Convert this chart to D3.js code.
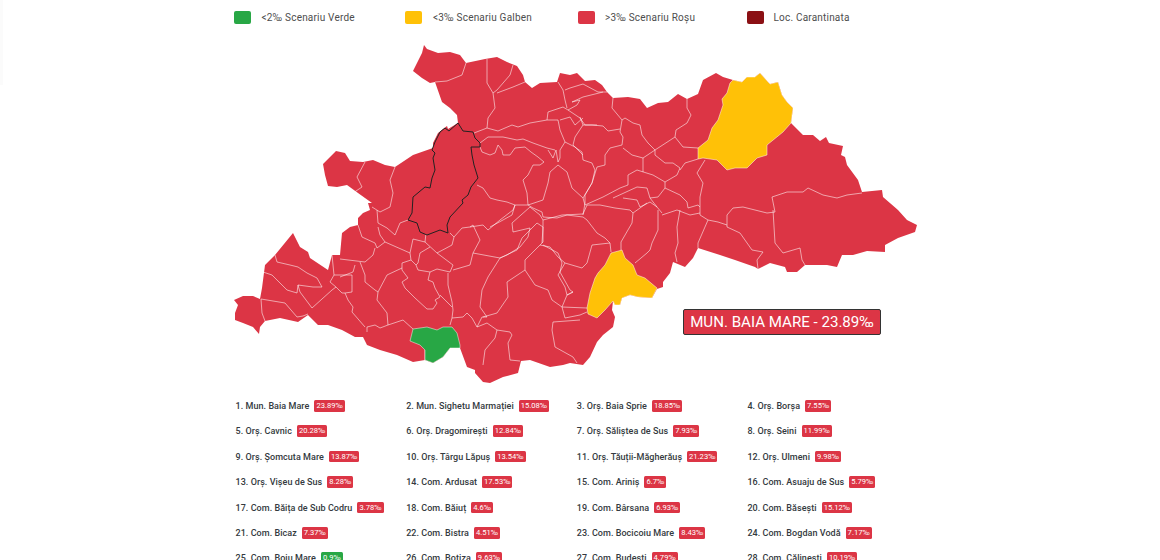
<!DOCTYPE html>
<html>
<head>
<meta charset="utf-8">
<script src="https://cdn.jsdelivr.net/npm/d3@7"></script>
<style>
  html, body { margin: 0; padding: 0; width: 1160px; height: 560px; overflow: hidden; background: #fff; font-family: Roboto, sans-serif; }
  #edge { position: absolute; left: 0; top: 0; width: 3px; height: 85px; background: #fbfbfb; }
  #map { position: absolute; left: 0; top: 0; }
  .legend-item { position: absolute; font-size: 10px; color: #4d4d4d; letter-spacing: .2px; line-height: 13px; white-space: nowrap; }
  .legend-item i { position: absolute; left: -27.5px; top: 0; width: 17px; height: 13px; border-radius: 2px; }
  .row { position: absolute; white-space: nowrap; font-size: 9px; font-weight: 500; color: #343a40; line-height: 12px; letter-spacing: .05px; }
  .badge { display: inline-block; margin-left: 5px; padding: 0 2px; height: 11.5px; line-height: 11.5px; font-size: 7.6px; font-weight: 400; color: #fff; border-radius: 1.5px; vertical-align: top; letter-spacing: 0; }
  #tip { position: absolute; left: 683px; top: 309px; width: 196px; height: 24px; box-sizing: content-box; border: 1px solid #333; border-radius: 2px; background: #dc3545; color: #fff; font-size: 15.1px; line-height: 25px; text-align: center; white-space: nowrap; }
</style>
</head>
<body>
<div id="edge"></div>
<svg id="map" width="1160" height="400"></svg>
<div id="legend"></div>
<div id="list"></div>
<div id="tip"></div>
<script>
const legendLabels = ['<2‰ Scenariu Verde', '<3‰ Scenariu Galben', '>3‰ Scenariu Roșu', 'Loc. Carantinata'];
const legendColors = ['#28a745', '#ffc107', '#dc3545', '#8b1014'];

const localities = [
  'Mun. Baia Mare', 'Mun. Sighetu Marmației', 'Orș. Baia Sprie', 'Orș. Borșa',
  'Orș. Cavnic', 'Orș. Dragomirești', 'Orș. Săliștea de Sus', 'Orș. Seini',
  'Orș. Șomcuta Mare', 'Orș. Târgu Lăpuș', 'Orș. Tăuții-Măgherăuș', 'Orș. Ulmeni',
  'Orș. Vișeu de Sus', 'Com. Ardusat', 'Com. Ariniș', 'Com. Asuaju de Sus',
  'Com. Băița de Sub Codru', 'Com. Băiuț', 'Com. Bârsana', 'Com. Băsești',
  'Com. Bicaz', 'Com. Bistra', 'Com. Bocicoiu Mare', 'Com. Bogdan Vodă',
  'Com. Boiu Mare', 'Com. Botiza', 'Com. Budești', 'Com. Călinești'
];
const rates = [
  23.89, 15.08, 18.85, 7.55,
  20.28, 12.84, 7.93, 11.99,
  13.87, 13.54, 21.23, 9.98,
  8.28, 17.53, 6.7, 5.79,
  3.78, 4.6, 6.93, 15.12,
  7.37, 4.51, 8.43, 7.17,
  0.9, 9.63, 4.79, 10.19
];

// county outline and commune borders
const countyOutline = [[424,45],[427,49],[438,53],[450,52],[460,55],[466,63],[485,59],[497,57],[507,62],[517,66],[523,75],[525,82],[532,88],[540,83],[557,82],[560,73],[570,75],[577,73],[585,81],[595,80],[602,85],[607,92],[613,98],[628,97],[640,99],[647,108],[658,103],[668,102],[678,94],[687,99],[698,94],[703,80],[716,73],[723,77],[733,80],[742,82],[747,77],[755,77],[760,73],[768,82],[770,84],[778,82],[782,95],[787,102],[793,108],[791,123],[803,135],[813,135],[820,141],[826,137],[829,143],[843,146],[841,155],[845,157],[847,165],[858,180],[862,192],[882,190],[883,197],[898,210],[907,220],[917,225],[915,232],[898,238],[885,245],[885,252],[867,251],[853,255],[842,255],[837,267],[827,265],[805,265],[797,272],[787,272],[785,267],[770,263],[758,269],[755,267],[735,260],[720,255],[698,248],[693,258],[685,267],[673,262],[670,273],[663,282],[663,287],[657,289],[652,298],[638,297],[630,295],[622,298],[620,305],[615,305],[613,301],[612,310],[615,317],[613,327],[603,335],[597,342],[590,357],[583,365],[570,363],[563,365],[550,367],[530,360],[521,361],[518,373],[503,377],[490,383],[483,382],[475,373],[475,370],[467,367],[460,348],[450,348],[443,357],[433,363],[425,360],[413,362],[397,355],[380,350],[367,345],[363,337],[355,337],[342,330],[328,325],[318,325],[308,315],[298,322],[280,318],[265,321],[260,327],[259,334],[253,327],[243,323],[235,320],[235,313],[238,305],[234,300],[243,296],[253,296],[260,299],[262,288],[265,265],[275,255],[293,233],[300,247],[308,252],[310,258],[328,270],[332,255],[340,255],[342,233],[350,227],[358,225],[358,218],[363,213],[370,210],[368,203],[372,203],[358,193],[347,185],[337,187],[328,186],[325,175],[323,164],[336,151],[345,153],[350,161],[363,162],[373,160],[385,165],[395,167],[398,165],[413,155],[433,148],[433,143],[438,133],[447,126],[448,129],[458,123],[457,115],[450,108],[442,102],[435,82],[430,83],[422,78],[413,71],[422,53],[424,45]];
const yellowNorth = [[733,80],[742,82],[747,77],[755,77],[760,73],[768,82],[770,84],[778,82],[782,95],[787,102],[793,108],[791,123],[783,132],[767,145],[767,155],[757,158],[747,168],[735,168],[727,170],[717,160],[703,158],[698,159],[698,148],[708,140],[712,128],[718,120],[723,105],[722,99],[727,93],[730,83],[733,80]];
const yellowSouth = [[611,253],[622,250],[625,258],[633,265],[637,275],[645,278],[657,288],[652,298],[638,297],[630,295],[622,298],[620,305],[615,305],[613,301],[605,310],[597,318],[588,314],[587,308],[590,293],[595,278],[598,273],[605,265],[611,253]];
const greenBoiu = [[413,329],[427,327],[437,330],[443,327],[452,327],[457,333],[460,345],[460,348],[450,348],[443,357],[433,363],[425,360],[425,350],[420,345],[410,341],[413,329]];
const baiaMareArea = [[458,123],[463,131],[473,132],[475,138],[480,143],[480,147],[471,147],[472,155],[474,165],[478,178],[471,187],[468,195],[462,200],[463,203],[450,217],[447,225],[448,233],[440,230],[427,235],[420,232],[417,223],[408,220],[412,213],[413,197],[425,187],[430,188],[432,178],[435,170],[433,158],[435,153],[432,150],[435,142],[440,132],[445,128],[449,131],[458,123]];
const communeBorders = [
  [[466,63],[462,75],[447,81],[435,82]],
  [[487,59],[487,73],[487,83],[493,93],[495,108],[488,118],[487,128]],
  [[513,65],[510,75],[497,90],[493,93]],
  [[525,82],[513,87],[497,93]],
  [[474,133],[487,128],[498,131],[512,125],[518,127],[530,123],[547,120],[558,120]],
  [[480,143],[488,137],[503,137],[517,140],[523,139],[533,143],[547,148],[555,150]],
  [[480,147],[482,152],[490,155],[495,153],[498,145],[502,150],[503,155],[510,155],[515,148],[525,147],[531,152],[538,157],[544,162],[540,165],[533,165],[528,175],[523,180],[527,193],[528,205]],
  [[477,185],[483,188],[490,198],[497,200],[507,202],[515,205],[528,205],[533,208],[542,212],[543,217],[557,218],[567,215],[583,217]],
  [[515,205],[512,215],[503,220],[490,227]],
  [[528,205],[543,200],[548,183],[550,172],[558,165],[567,172],[572,188],[583,198],[585,205]],
  [[548,150],[553,158],[556,150],[558,162],[560,158],[560,150],[565,142],[560,130],[558,120]],
  [[565,142],[575,147],[582,152],[583,160],[592,163],[595,170],[592,183],[583,198]],
  [[547,120],[548,112],[563,107],[568,110],[580,118],[585,125],[597,125]],
  [[560,120],[570,117],[575,125],[583,118]],
  [[558,82],[563,90],[565,100],[567,108]],
  [[568,110],[577,105],[580,100],[572,102],[583,97],[603,92]],
  [[565,90],[570,88],[583,84],[598,92],[607,92]],
  [[580,117],[583,125],[575,137],[573,145],[583,155]],
  [[613,98],[612,108],[622,120],[620,132],[623,137],[622,145],[610,148],[605,155],[605,165],[597,167],[592,183],[585,195],[585,203],[583,215]],
  [[583,125],[592,125],[603,126],[608,131],[620,129]],
  [[622,120],[625,118],[633,123],[640,125],[642,135],[648,143],[655,150],[655,155],[665,163],[673,163],[680,168],[677,175],[665,182],[665,188],[658,197],[650,198]],
  [[655,150],[643,158],[632,155],[623,148]],
  [[643,158],[643,172]],
  [[585,205],[603,197],[620,188],[628,185],[628,175],[637,170],[653,175],[665,182]],
  [[613,198],[637,187],[647,188],[650,198],[657,207],[662,213]],
  [[623,198],[637,200],[640,207],[650,202],[657,207]],
  [[665,188],[680,195],[687,202],[688,208],[698,205],[700,207]],
  [[687,99],[687,108],[691,115],[687,123],[676,130],[675,137],[655,150]],
  [[675,137],[683,147],[698,148]],
  [[698,159],[685,163],[680,170]],
  [[705,160],[697,173],[703,183],[700,197],[700,215],[708,220],[718,222],[727,225]],
  [[862,193],[847,195],[837,198],[823,195],[808,188],[803,192],[787,192],[772,197],[775,212],[767,213],[743,207],[733,208],[727,215],[727,227],[740,233],[752,250],[763,252],[757,260],[758,269]],
  [[773,210],[775,243],[783,253],[800,248],[802,260],[805,265]],
  [[708,220],[698,243],[698,248]],
  [[658,210],[658,230],[652,243],[650,250],[647,253],[635,263]],
  [[680,210],[677,227],[678,243],[675,253],[677,262]],
  [[633,213],[632,223],[621,242],[621,250]],
  [[583,217],[587,220],[597,233],[605,238],[610,243],[611,252]],
  [[610,243],[592,245],[587,263],[582,268],[565,263]],
  [[543,220],[562,215],[583,214],[587,205],[600,205],[615,208],[630,210],[633,213],[647,203]],
  [[662,215],[677,210],[690,215],[700,213]],
  [[530,207],[512,223],[513,232],[530,228],[528,237],[520,247],[507,255],[500,258]],
  [[530,207],[540,215],[543,220],[543,242],[540,245],[525,260],[525,270],[507,282],[508,297],[497,313],[483,317]],
  [[540,245],[550,247],[558,257],[565,263],[558,275],[565,287],[567,295],[573,292],[567,295],[562,307],[565,318],[580,315],[587,312]],
  [[525,270],[535,285],[548,290],[552,300],[562,307],[587,308]],
  [[543,245],[558,253],[562,263],[560,272],[570,290],[573,292]],
  [[580,320],[553,322],[552,330],[555,347],[573,357],[577,363]],
  [[408,220],[400,223],[395,235],[387,228],[378,223],[377,210]],
  [[372,207],[380,212],[390,207],[393,193],[390,180],[395,167]],
  [[365,162],[357,177],[362,187],[353,193]],
  [[358,225],[362,237],[375,243],[377,248],[385,242],[380,235],[378,227]],
  [[375,248],[373,255],[365,262],[340,259]],
  [[385,242],[410,253],[411,260],[402,263],[402,270],[408,278],[402,282],[405,288],[415,298],[427,309],[433,309],[437,303],[435,300],[440,297],[435,288],[433,282],[428,280],[430,272]],
  [[426,233],[425,242],[413,239],[410,253]],
  [[425,242],[437,253],[453,265],[450,272],[437,269],[430,272],[418,270],[416,265],[411,260]],
  [[430,247],[420,253],[418,263],[416,265]],
  [[450,233],[454,237],[452,245],[437,253]],
  [[454,237],[462,228],[470,227],[473,225],[480,240],[473,253],[470,265],[453,270]],
  [[470,227],[483,225],[488,230],[500,220],[513,210],[515,205]],
  [[473,253],[500,258],[517,250],[522,238],[537,223],[543,227],[542,243]],
  [[500,258],[488,277],[482,290],[480,307],[487,317],[482,317],[477,327],[472,318],[467,313],[463,317],[452,318],[450,325]],
  [[448,273],[448,285],[452,302],[453,310],[452,318]],
  [[440,295],[452,307]],
  [[402,268],[387,275],[378,292],[377,300],[387,313],[388,325],[380,328],[375,325],[367,327],[367,332]],
  [[388,325],[403,320],[413,329]],
  [[360,262],[365,275],[365,282],[375,290],[378,292]],
  [[355,265],[353,272],[340,277]],
  [[332,255],[334,275],[352,275],[352,292],[345,293],[348,300],[353,307],[352,312],[365,327]],
  [[275,255],[277,262],[290,265],[298,267],[307,273],[317,278],[322,287],[313,287],[298,285],[300,292],[312,308],[332,290],[336,287],[342,293],[345,293]],
  [[263,272],[272,275],[287,290],[297,293],[298,285]],
  [[261,299],[285,303],[297,317],[303,316],[308,314]],
  [[261,299],[262,313],[265,321]],
  [[334,275],[330,282],[336,287]],
  [[477,327],[487,323],[497,330],[510,332],[512,335],[508,343],[510,360],[520,361]],
  [[497,330],[495,338],[485,350],[483,365]],
  [[425,360],[425,350]]
];

const regionShapes = [yellowNorth, yellowSouth, greenBoiu];
const regionColors = ['#ffc107', '#ffc107', '#28a745'];

const rateColor = d3.scaleThreshold().domain([2, 3]).range(['#28a745', '#ffc107', '#dc3545']);

var svg = d3.select('#map');
var path = d3.geoPath(d3.geoIdentity());

svg.append('path')
  .datum({type: 'Polygon', coordinates: [countyOutline]})
  .attr('d', path)
  .attr('fill', '#dc3545');

svg.append('path')
  .datum({type: 'MultiLineString', coordinates: communeBorders})
  .attr('d', path)
  .attr('fill', 'none')
  .attr('stroke', '#fff')
  .attr('stroke-opacity', 0.55)
  .attr('stroke-width', 1)
  .attr('stroke-linejoin', 'round');

svg.selectAll('.area')
  .data(regionShapes)
  .enter()
  .append('path')
  .attr('class', 'area')
  .attr('d', function (d) { return path({type: 'Polygon', coordinates: [d]}); })
  .attr('fill', function (d, i) { return regionColors[i]; })
  .attr('stroke', '#fff')
  .attr('stroke-opacity', 0.6)
  .attr('stroke-width', 0.8);

// selected locality keeps the black border
svg.append('path')
  .datum({type: 'Polygon', coordinates: [baiaMareArea]})
  .attr('d', path)
  .attr('fill', '#dc3545')
  .attr('stroke', '#222')
  .attr('stroke-width', 1);

const legendX = d3.scaleOrdinal().domain(legendLabels).range([261.5, 433, 605, 773.5]);

d3.select('#legend')
  .selectAll('div')
  .data(legendLabels)
  .enter()
  .append('div')
  .attr('class', 'legend-item')
  .style('left', function (d) { return legendX(d) + 'px'; })
  .style('top', '11px')
  .text(function (d) { return d; })
  .append('i')
  .style('background', function (d, i) { return legendColors[i]; })
  .style('left', function (d, i) { return (i === 3 ? -27 : i === 1 ? -28 : -27.5) + 'px'; });

const perRow = 4;
const colX = d3.scaleLinear().domain([0, perRow]).range([235.5, 918]);
const rowY = d3.scaleLinear().domain([0, 6]).range([400, 552.4]);

var row = d3.select('#list')
  .selectAll('div')
  .data(localities)
  .enter()
  .append('div')
  .attr('class', 'row')
  .style('left', function (d, i) { return colX(i % perRow) + 'px'; })
  .style('top', function (d, i) { return rowY(Math.floor(i / perRow)) + 'px'; })
  .text(function (d, i) { return (i + 1) + '. ' + d; });

row.append('span')
  .attr('class', 'badge')
  .style('background', function (d, i) { return rateColor(rates[i]); })
  .text(function (d, i) { return rates[i] + '‰'; });

d3.select('#tip').text(localities[0].toUpperCase() + ' - ' + rates[0] + '‰');
</script>
</body>
</html>
